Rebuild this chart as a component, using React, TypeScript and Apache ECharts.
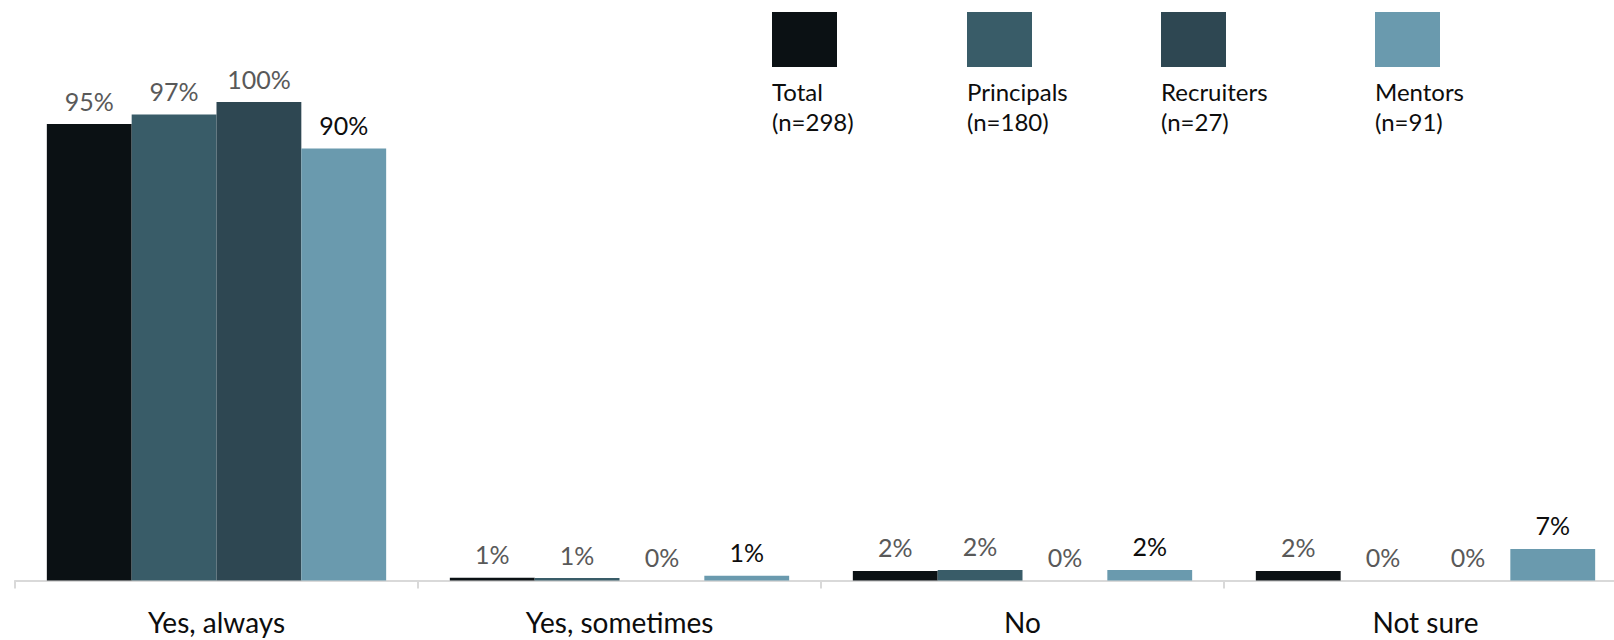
import React, { useEffect, useRef } from "react";
import * as echarts from "echarts";

const categories = ["Yes, always", "Yes, sometimes", "No", "Not sure"];
const seriesNames = ["Total", "Principals", "Recruiters", "Mentors"];
const seriesN = ["(n=298)", "(n=180)", "(n=27)", "(n=91)"];
const totalValues = [95.4, 0.6, 2.0, 2.0];
const principalsValues = [97.4, 0.5, 2.2, 0];
const recruitersValues = [100, 0, 0, 0];
const mentorsValues = [90.3, 1.0, 2.2, 6.6];
const seriesValues = [totalValues, principalsValues, recruitersValues, mentorsValues];

const colors = ["#0b1114", "#395c68", "#2e4752", "#6a9aae"];
const labelColors = ["#595959", "#595959", "#595959", "#0d0d0d"];
const legendX = [772, 967, 1161, 1375];
const FONT = "Lato, 'Open Sans', sans-serif";

export default function App() {
  const ref = useRef<HTMLDivElement>(null);
  useEffect(() => {
    if (!ref.current) return;
    const chart = echarts.init(ref.current, null, { renderer: "svg" });
    const graphics: any[] = [];
    seriesNames.forEach((name, i) => {
      graphics.push({
        type: "rect",
        left: legendX[i],
        top: 12,
        shape: { width: 65, height: 55 },
        style: { fill: colors[i] },
      });
      graphics.push({
        type: "text",
        left: legendX[i],
        top: 76,
        style: {
          text: name + "\n" + seriesN[i],
          fill: "#0d0d0d",
          font: `24px ${FONT}`,
          lineHeight: 30,
        },
      });
    });
    chart.setOption({
      animation: false,
      textStyle: { fontFamily: FONT },
      grid: { left: 15, width: 1612, top: 102, bottom: 59.5, containLabel: false },
      xAxis: {
        type: "category",
        data: categories,
        axisLine: { lineStyle: { color: "#d9d9d9", width: 2 } },
        axisTick: { show: true, length: 8, lineStyle: { color: "#d9d9d9", width: 2 } },
        axisLabel: { color: "#0d0d0d", fontSize: 28, lineHeight: 30, margin: 26, fontFamily: FONT },
      },
      yAxis: { type: "value", min: 0, max: 100, show: false, splitLine: { show: false } },
      graphic: graphics,
      series: seriesNames.map((name, i) => ({
        name,
        type: "bar",
        data: seriesValues[i],
        barGap: "0%",
        barCategoryGap: "15.8%",
        itemStyle: { color: colors[i] },
        label: {
          show: true,
          position: "top",
          distance: 11,
          color: labelColors[i],
          fontSize: 25,
          fontFamily: FONT,
          formatter: (p: any) => Math.round(p.value) + "%",
        },
      })),
    });
    return () => chart.dispose();
  }, []);
  return (
    <div style={{ position: "fixed", left: 0, top: 0, width: 1614, height: 640, overflow: "hidden", background: "#fff" }}>
      <div ref={ref} style={{ width: 1640, height: 640 }} />
    </div>
  );
}
